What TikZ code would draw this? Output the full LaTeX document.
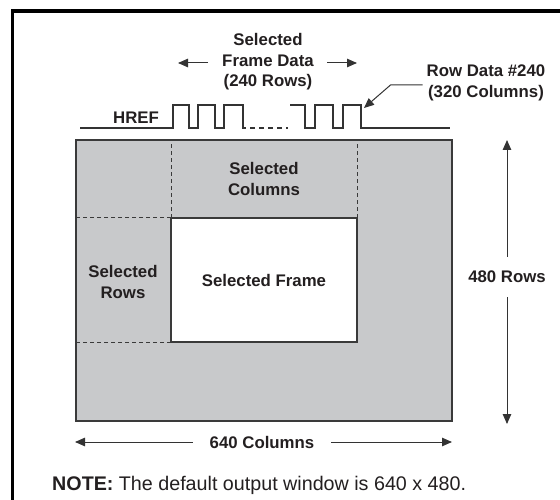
\documentclass[tikz,border=0pt]{standalone}
\usepackage{fontspec}
\setmainfont{Liberation Sans}
\usetikzlibrary{arrows.meta,positioning}
\definecolor{panel}{HTML}{C8C9CB}
\definecolor{ink}{HTML}{231F20}
\definecolor{edge}{HTML}{3A3A3A}
\definecolor{trace}{HTML}{333333}

\begin{document}
\begin{tikzpicture}[
  x=1pt, y=-1pt,
  lbl/.style={font=\fontsize{16.8}{20.5}\selectfont\bfseries, text=ink, align=center, inner sep=0pt},
  area/.style={draw=edge, line width=1.5pt, fill=panel, outer sep=0pt, inner sep=0pt},
  arr/.style={-{Triangle[length=10pt,width=8.5pt]}, draw=trace, line width=1pt},
  wave/.style={draw=trace, line width=1.3pt},
  guide/.style={draw=edge, line width=1pt, dash pattern=on 4pt off 3pt},
]
\useasboundingbox (0,0) rectangle (560,500);
\def\hi{105}\def\lo{128}

% ===== page frame =====
\draw[line width=3.3pt] (12.5,520) -- (12.5,11) -- (580,11);

% ===== HREF waveform =====
\node[lbl] (href) at (136,118) {HREF};
\draw[wave] (80,\lo) -- (173,\lo) -- (173,\hi) -- (189,\hi) -- (189,\lo) -- (198,\lo)
  -- (198,\hi) -- (215,\hi) -- (215,\lo) -- (224,\lo) -- (224,\hi) -- (243,\hi)
  -- (243,\lo) -- (246,\lo);
\draw[wave, dash pattern=on 5pt off 4pt] (250,\lo) -- (288,\lo);
\draw[wave] (290,\hi) -- (305,\hi) -- (305,\lo) -- (315,\lo) -- (315,\hi) -- (333,\hi)
  -- (333,\lo) -- (343,\lo) -- (343,\hi) -- (361,\hi) -- (361,\lo) -- (450,\lo);
\coordinate (rowtip) at (364,108);

% ===== top labels =====
\node[lbl] (fdata) at (268,62) {Selected\\Frame Data\\(240 Rows)};
\draw[arr] ([xshift=-60pt,yshift=-1pt]fdata.center) -- ([xshift=-90pt,yshift=-1pt]fdata.center);
\draw[arr] ([xshift=59pt,yshift=-1pt]fdata.center) -- ([xshift=89pt,yshift=-1pt]fdata.center);
\node[lbl] (rowdata) at (486,83) {Row Data \#240\\(320 Columns)};
\draw[arr] ([xshift=-4pt,yshift=-2pt]rowdata.west) -- ++(-32,0) -- (rowtip);

% ===== sensor array + selected window =====
\node[area, minimum width=376pt, minimum height=281pt] (sensor) at (264,280.5) {};
\node[area, fill=white, line width=1.2pt, minimum width=186pt, minimum height=124pt,
      font=\fontsize{16.8}{20.5}\selectfont\bfseries, text=ink] (frame) at (264,280) {Selected Frame};
\draw[guide] (frame.north west) -- (frame.north west |- sensor.north);
\draw[guide] (frame.north east) -- (frame.north east |- sensor.north);
\draw[guide] (frame.north west) -- (frame.north west -| sensor.west);
\draw[guide] (frame.south west) -- (frame.south west -| sensor.west);
\node[lbl] (selcols) at (264,179) {Selected\\Columns};
\node[lbl] (selrows) at (123,282) {Selected\\Rows};

% ===== dimensions =====
\node[lbl, minimum height=40pt] (rows) at (507,277) {480 Rows};
\draw[arr] (rows.north) -- (rows.north |- sensor.north);
\draw[arr] (rows.south) -- ([yshift=-3pt]rows.south |- sensor.south);
\node[lbl, minimum width=138pt] (cols) at (262,442) {640 Columns};
\draw[arr] (cols.west) -- ([xshift=-1pt]cols.west -| sensor.west);
\draw[arr] (cols.east) -- (cols.east -| sensor.east);

% ===== note =====
\node[anchor=base west, inner sep=0pt, text=ink, font=\fontsize{19.7}{22}\selectfont] (note) at (52,490)
  {\textbf{NOTE:} The default output window is 640 x 480.};
\end{tikzpicture}
\end{document}
